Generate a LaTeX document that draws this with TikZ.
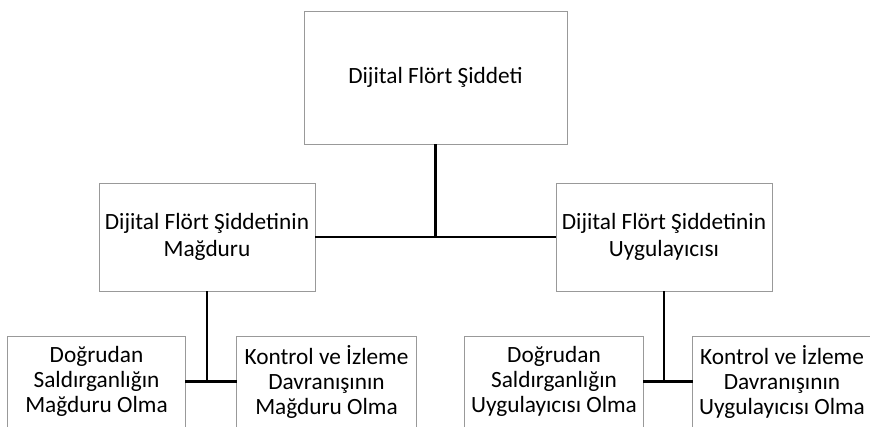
\documentclass[tikz,border=0pt]{standalone}
\usepackage{fontspec}
\setmainfont{Carlito}
\usetikzlibrary{calc}
\tikzset{
  box/.style={draw=black!40, line width=0.9pt, fill=white, align=center, inner sep=0pt,
    font=\fontsize{23.3}{27}\selectfont},
  lowbox/.style={align=center, inner sep=0pt, minimum height=89pt,
    font=\fontsize{23.3}{25}\selectfont},
  boxline/.style={draw=black!40, line width=0.9pt},
  link/.style={draw=black, line width=2.6pt}
}
\begin{document}
\begin{tikzpicture}[x=1pt,y=-1pt]
\path[use as bounding box] (0,0) rectangle (870,426);
\clip (0,0) rectangle (870,426);
\node[box, minimum width=263pt, minimum height=133pt] (top) at (435.5,77.5) {Dijital Flört Şiddeti};
\node[box, minimum width=216pt, minimum height=108pt] (mL) at (207,237) {Dijital Flört Şiddetinin\\Mağduru};
\node[box, minimum width=216pt, minimum height=108pt] (mR) at (664,237) {Dijital Flört Şiddetinin\\Uygulayıcısı};
\node[lowbox, minimum width=177pt] (b1) at (96.5,381.5) {Doğrudan\\Saldırganlığın\\Mağduru Olma};
\node[lowbox, minimum width=179pt] (b2) at (326.5,381.5) {Kontrol ve İzleme\\Davranışının\\Mağduru Olma};
\node[lowbox, minimum width=178pt] (b3) at (554,381.5) {Doğrudan\\Saldırganlığın\\Uygulayıcısı Olma};
\node[lowbox, minimum width=178pt] (b4) at (782,381.5) {Kontrol ve İzleme\\Davranışının\\Uygulayıcısı Olma};
\foreach \b in {b1,b2,b3,b4}{
  \draw[boxline] (\b.north west) rectangle ($(\b.south east)+(0,40)$);
}
\draw[link] (top.south) -- (top.south |- mL.east);
\draw[link] (mL.east) -- (mR.west);
\draw[link] (mL.south) -- (mL.south |- b1.east);
\draw[link] (b1.east) -- (b2.west);
\draw[link] (mR.south) -- (mR.south |- b3.east);
\draw[link] (b3.east) -- (b4.west);
\end{tikzpicture}
\end{document}
